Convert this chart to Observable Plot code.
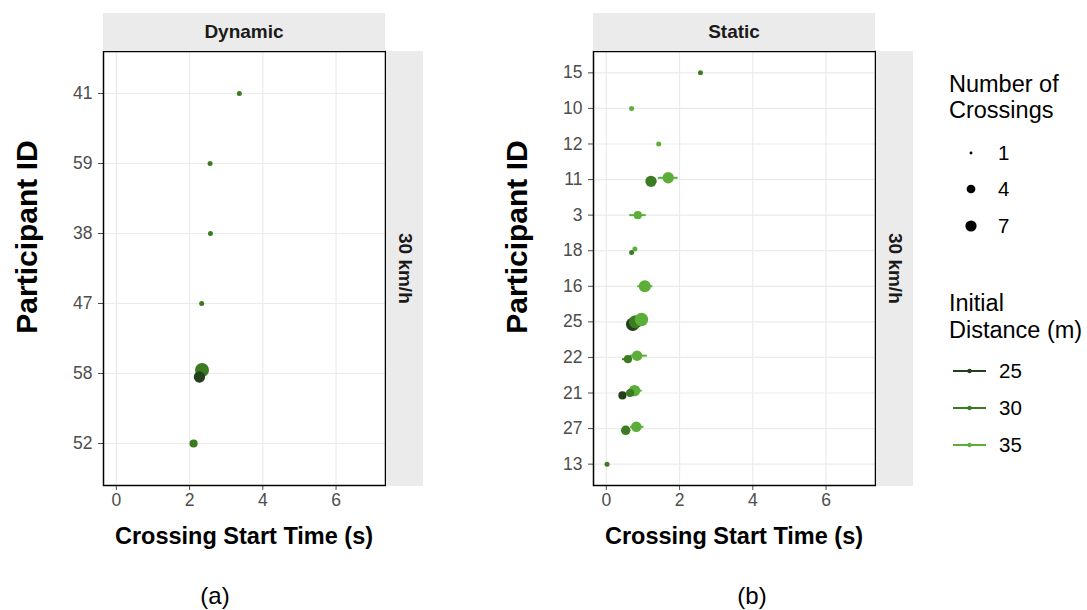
<!DOCTYPE html>
<html><head><meta charset="utf-8">
<script src="https://cdn.jsdelivr.net/npm/d3@7"></script>
<script src="https://cdn.jsdelivr.net/npm/@observablehq/plot@0.6"></script>
<style>
body{margin:0;background:#fff;font-family:"Liberation Sans",Arial,sans-serif;}
#root{position:relative;width:1087px;height:610px;overflow:hidden;background:#fff;}
.chart{position:absolute;top:0;}
.strip{position:absolute;background:#ebebeb;display:flex;align-items:center;justify-content:center;font-weight:bold;font-size:19px;color:#1a1a1a;}
.vt{writing-mode:vertical-rl;}
.rot{position:absolute;transform:translate(-50%,-50%) rotate(-90deg);white-space:nowrap;font-weight:bold;font-size:30px;color:#000;}
.ctr{position:absolute;transform:translate(-50%,-50%);white-space:nowrap;color:#000;}
.leg{position:absolute;white-space:nowrap;color:#000;}
</style></head><body><div id="root"></div>
<script>
// ---- data ----
const xTicks = [0, 2, 4, 6];
const xDomain = [-0.35, 7.35];
const distances = [25, 30, 35];
const distanceColors = ["#23401a", "#3d7b22", "#5bae38"];
const sizeBreaks = [1, 4, 7];

const dynamicParticipants = ["41", "59", "38", "47", "58", "52"];
const dynamicId       = ["41", "59", "38", "47", "58", "58", "52"];
const dynamicDistance = [30, 30, 30, 30, 25, 30, 30];
const dynamicTime     = [3.36, 2.56, 2.57, 2.33, 2.27, 2.34, 2.11];
const dynamicLow      = [3.36, 2.56, 2.57, 2.33, 2.20, 2.25, 2.05];
const dynamicHigh     = [3.36, 2.56, 2.57, 2.33, 2.34, 2.43, 2.17];
const dynamicCount    = [1, 1, 1, 1, 5, 9, 2];

const staticParticipants = ["15", "10", "12", "11", "3", "18", "16", "25", "22", "21", "27", "13"];
const staticId       = ["15", "10", "12", "11", "11", "3", "18", "18", "16", "25", "25", "25", "22", "22", "21", "21", "21", "27", "27", "13"];
const staticDistance = [30, 35, 35, 30, 35, 35, 30, 35, 35, 25, 30, 35, 30, 35, 25, 30, 35, 30, 35, 30];
const staticTime     = [2.57, 0.69, 1.43, 1.22, 1.69, 0.86, 0.69, 0.78, 1.05, 0.72, 0.80, 0.96, 0.59, 0.84, 0.44, 0.65, 0.77, 0.53, 0.82, 0.02];
const staticLow      = [2.57, 0.69, 1.43, 1.15, 1.42, 0.64, 0.69, 0.78, 0.86, 0.65, 0.72, 0.85, 0.44, 0.66, 0.40, 0.56, 0.62, 0.47, 0.66, 0.02];
const staticHigh     = [2.57, 0.69, 1.43, 1.30, 1.96, 1.09, 0.69, 0.78, 1.27, 0.80, 0.90, 1.07, 0.70, 1.12, 0.49, 0.73, 0.98, 0.60, 1.03, 0.02];
const staticCount    = [1, 1, 1, 5, 5, 2, 1, 1, 6, 8, 8, 8, 2, 4, 2, 2, 5, 3, 4, 1];

// ---- helpers ----
const FONT = '"Liberation Sans", Arial, sans-serif';
const dodgeWidth = 0.2;
function build(ids, dist, t, lo, hi, n, participants) {
  const N = participants.length;
  const rows = ids.map((id, i) => ({id, distance: dist[i], time: t[i], low: lo[i], high: hi[i], count: n[i]}));
  for (const [id, g] of d3.group(rows, d => d.id)) {
    g.sort((a, b) => a.distance - b.distance);
    const k = g.length;
    g.forEach((d, i) => { d.pos = (N - 1 - participants.indexOf(id)) + (i - (k - 1) / 2) * dodgeWidth / k; });
  }
  rows.sort((a, b) => a.distance - b.distance);
  return rows;
}
const rOptions = {type: "sqrt", domain: [0, 6], range: [2.5, 6.4]};

function panel(rows, participants) {
  const N = participants.length;
  const yTicks = d3.range(N);
  return Plot.plot({
    width: 390, height: 560,
    marginLeft: 103, marginRight: 5, marginTop: 51, marginBottom: 75,
    style: {fontFamily: FONT, background: "transparent", overflow: "visible"},
    x: {domain: xDomain},
    y: {domain: [-0.6, N - 0.4]},
    r: rOptions,
    color: {type: "ordinal", domain: distances, range: distanceColors},
    marks: [
      Plot.gridX(xTicks, {stroke: "#ebebeb", strokeOpacity: 1, strokeWidth: 1.2}),
      Plot.gridY(yTicks, {stroke: "#ebebeb", strokeOpacity: 1, strokeWidth: 1.2}),
      Plot.axisX(xTicks, {tickSize: 5, tickPadding: 3, fontSize: 17.5, color: "#4d4d4d", label: null}),
      Plot.axisY(yTicks, {tickSize: 5, tickPadding: 6, fontSize: 17.5, color: "#4d4d4d", label: null,
        tickFormat: i => participants[N - 1 - i]}),
      Plot.ruleY(rows, {y: "pos", x1: "low", x2: "high", stroke: "distance", strokeWidth: 2}),
      Plot.dot(rows, {x: "time", y: "pos", r: d => d.count - 1, fill: "distance", stroke: null}),
      Plot.frame({stroke: "#000", strokeWidth: 1.5})
    ]
  });
}

const root = document.getElementById("root");
function addDiv(cls, text, style) {
  const el = document.createElement("div");
  el.className = cls; el.textContent = text;
  Object.assign(el.style, style);
  root.appendChild(el);
  return el;
}

// ---- panels ----
const panels = [
  {left: 0, title: "Dynamic", caption: "(a)", cap: 215, rows: build(dynamicId, dynamicDistance, dynamicTime, dynamicLow, dynamicHigh, dynamicCount, dynamicParticipants), participants: dynamicParticipants},
  {left: 490, title: "Static", caption: "(b)", cap: 752, rows: build(staticId, staticDistance, staticTime, staticLow, staticHigh, staticCount, staticParticipants), participants: staticParticipants}
];
for (const p of panels) {
  const svg = panel(p.rows, p.participants);
  svg.classList.add("chart");
  svg.style.left = p.left + "px";
  root.appendChild(svg);
  const pl = p.left + 103, pr = p.left + 385;
  addDiv("strip", p.title, {left: pl + "px", top: "13px", width: (pr - pl) + "px", height: "38px"});
  const rs = addDiv("strip", "", {left: (pr + 1) + "px", top: "51px", width: "37px", height: "435px"});
  const vt = document.createElement("span"); vt.className = "vt"; vt.textContent = "30 km/h"; rs.appendChild(vt);
  addDiv("rot", "Participant ID", {left: (p.left + 27) + "px", top: "237px"});
  addDiv("ctr", "Crossing Start Time (s)", {left: (pl + pr) / 2 + "px", top: "536px", fontWeight: "bold", fontSize: "23.5px"});
  addDiv("ctr", p.caption, {left: p.cap + "px", top: "596px", fontSize: "24px"});
}

// ---- legend ----
addDiv("leg", "Number of\nCrossings", {left: "949px", top: "71px", fontSize: "23.5px", lineHeight: "26px", whiteSpace: "pre"});
addDiv("leg", "Initial\nDistance (m)", {left: "949px", top: "290px", fontSize: "23.5px", lineHeight: "27px", whiteSpace: "pre"});
const rScale = d3.scaleSqrt().domain([0, 6]).range([1.4, 5.6]);
const lg = d3.select(root).append("svg").attr("width", 60).attr("height", 330)
  .style("position", "absolute").style("left", "945px").style("top", "130px");
const sizeY = [153, 189, 226];
sizeBreaks.forEach((b, i) => {
  lg.append("circle").attr("cx", 26).attr("cy", sizeY[i] - 130).attr("r", rScale(b - 1)).attr("fill", "#000");
  addDiv("leg", String(b), {left: "998px", top: (sizeY[i] - 12) + "px", fontSize: "20.5px", lineHeight: "24px"});
});
const distY = [371, 408, 445];
distances.forEach((dv, i) => {
  const y = distY[i] - 130;
  lg.append("line").attr("x1", 8).attr("x2", 41).attr("y1", y).attr("y2", y).attr("stroke", distanceColors[i]).attr("stroke-width", 2);
  lg.append("circle").attr("cx", 24.5).attr("cy", y).attr("r", 2.2).attr("fill", distanceColors[i]);
  addDiv("leg", String(dv), {left: "999px", top: (distY[i] - 12) + "px", fontSize: "20.5px", lineHeight: "24px"});
});
</script>
</body></html>
